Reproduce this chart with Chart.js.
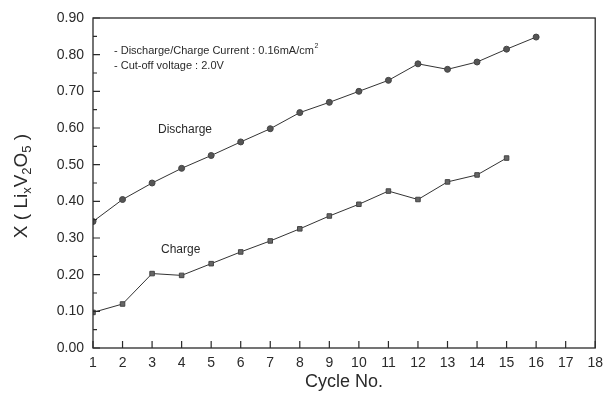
<!DOCTYPE html>
<html>
<head>
<meta charset="utf-8">
<script src="https://cdn.jsdelivr.net/npm/chart.js@4"></script>
<style>
  html, body { margin: 0; padding: 0; background: #fff; }
  #wrap { width: 610px; height: 397px; }
</style>
</head>
<body>
<div id="wrap"><canvas id="lixChart"></canvas></div>
<script>
// Cycle numbers and Li content x in LixV2O5
const cycles = [1, 2, 3, 4, 5, 6, 7, 8, 9, 10, 11, 12, 13, 14, 15, 16];
const dischargeX = [0.345, 0.405, 0.450, 0.490, 0.525, 0.562, 0.598, 0.642, 0.670, 0.700, 0.730, 0.775, 0.760, 0.780, 0.815, 0.848];
const chargeX = [0.097, 0.120, 0.203, 0.198, 0.230, 0.262, 0.292, 0.325, 0.360, 0.392, 0.428, 0.405, 0.453, 0.472, 0.518];
const xTicks = [1, 2, 3, 4, 5, 6, 7, 8, 9, 10, 11, 12, 13, 14, 15, 16, 17, 18];
const yTicks = [0.00, 0.10, 0.20, 0.30, 0.40, 0.50, 0.60, 0.70, 0.80, 0.90];

const FONT = '"Liberation Sans", Arial, sans-serif';
const INK = '#2a2a2a';

function toPoints(values) {
    return values.map((v, i) => ({ x: cycles[i], y: v }));
}

// frame, inward ticks, axis titles and notes
const decorPlugin = {
    id: 'decor',
    afterDraw(chart) {
        const { ctx, chartArea: a, scales } = chart;
        const xs = scales.x, ys = scales.y;
        ctx.save();
        ctx.strokeStyle = INK;
        ctx.lineWidth = 1.3;
        ctx.strokeRect(a.left, a.top, a.right - a.left, a.bottom - a.top);

        ctx.lineWidth = 1.2;
        ctx.beginPath();
        xTicks.forEach(t => {
            const px = xs.getPixelForValue(t);
            ctx.moveTo(px, a.bottom);
            ctx.lineTo(px, a.bottom - 7);
        });
        yTicks.forEach(t => {
            const py = ys.getPixelForValue(t);
            ctx.moveTo(a.left, py);
            ctx.lineTo(a.left + 7, py);
        });
        for (let i = 0; i < yTicks.length - 1; i++) {
            const py = ys.getPixelForValue(yTicks[i] + 0.05);
            ctx.moveTo(a.left, py);
            ctx.lineTo(a.left + 4, py);
        }
        ctx.stroke();

        ctx.fillStyle = INK;
        // x title
        ctx.font = '18px ' + FONT;
        ctx.textAlign = 'center';
        ctx.textBaseline = 'middle';
        ctx.fillText('Cycle No.', (a.left + a.right) / 2, 382);

        // y title with subscripts
        ctx.save();
        ctx.translate(22, 186);
        ctx.rotate(-Math.PI / 2);
        const parts = [
            ['X ( Li', 19, 0], ['x', 13, 5], ['V', 19, 0], ['2', 13, 5],
            ['O', 19, 0], ['5', 13, 5], [' )', 19, 0]
        ];
        let total = 0;
        parts.forEach(p => { ctx.font = p[1] + 'px ' + FONT; total += ctx.measureText(p[0]).width; });
        let cx = -total / 2;
        ctx.textAlign = 'left';
        parts.forEach(p => {
            ctx.font = p[1] + 'px ' + FONT;
            ctx.fillText(p[0], cx, p[2]);
            cx += ctx.measureText(p[0]).width;
        });
        ctx.restore();

        // notes
        ctx.textAlign = 'left';
        ctx.font = '11px ' + FONT;
        const note1 = '- Discharge/Charge Current : 0.16mA/cm';
        ctx.fillText(note1, 114, 51);
        const w1 = ctx.measureText(note1).width;
        ctx.font = '7px ' + FONT;
        ctx.fillText('2', 114 + w1 + 0.5, 46);
        ctx.font = '11px ' + FONT;
        ctx.fillText('- Cut-off voltage : 2.0V', 114, 66);

        ctx.font = '12px ' + FONT;
        ctx.fillText('Discharge', 158, 130);
        ctx.fillText('Charge', 161, 250);
        ctx.restore();
    }
};

new Chart(document.getElementById('lixChart'), {
    type: 'line',
    data: {
        datasets: [
            {
                label: 'Discharge',
                data: toPoints(dischargeX),
                borderColor: '#333',
                borderWidth: 1,
                pointStyle: 'circle',
                pointRadius: 3,
                pointBackgroundColor: '#555',
                pointBorderColor: '#444',
                pointBorderWidth: 1,
                tension: 0
            },
            {
                label: 'Charge',
                data: toPoints(chargeX),
                borderColor: '#333',
                borderWidth: 1,
                pointStyle: 'rect',
                pointRadius: 3.2,
                pointBackgroundColor: '#666',
                pointBorderColor: '#444',
                pointBorderWidth: 1,
                tension: 0
            }
        ]
    },
    options: {
        responsive: true,
        maintainAspectRatio: false,
        animation: false,
        layout: { padding: { left: 0, right: 7, top: 18, bottom: 0 } },
        plugins: {
            legend: { display: false },
            tooltip: { enabled: false }
        },
        scales: {
            x: {
                type: 'linear',
                min: 1,
                max: 18,
                afterBuildTicks: s => { s.ticks = xTicks.map(v => ({ value: v })); },
                afterFit: s => { s.height = 49; },
                grid: { display: false, drawTicks: false },
                border: { display: false },
                ticks: {
                    color: INK,
                    font: { family: FONT, size: 14 },
                    padding: 7,
                    maxRotation: 0,
                    autoSkip: false
                }
            },
            y: {
                min: 0,
                max: 0.9,
                afterBuildTicks: s => { s.ticks = yTicks.map(v => ({ value: v })); },
                afterFit: s => { s.width = 93; },
                grid: { display: false, drawTicks: false },
                border: { display: false },
                ticks: {
                    color: INK,
                    font: { family: FONT, size: 14 },
                    padding: 9,
                    callback: v => Number(v).toFixed(2)
                }
            }
        }
    },
    plugins: [decorPlugin]
});
</script>
</body>
</html>
